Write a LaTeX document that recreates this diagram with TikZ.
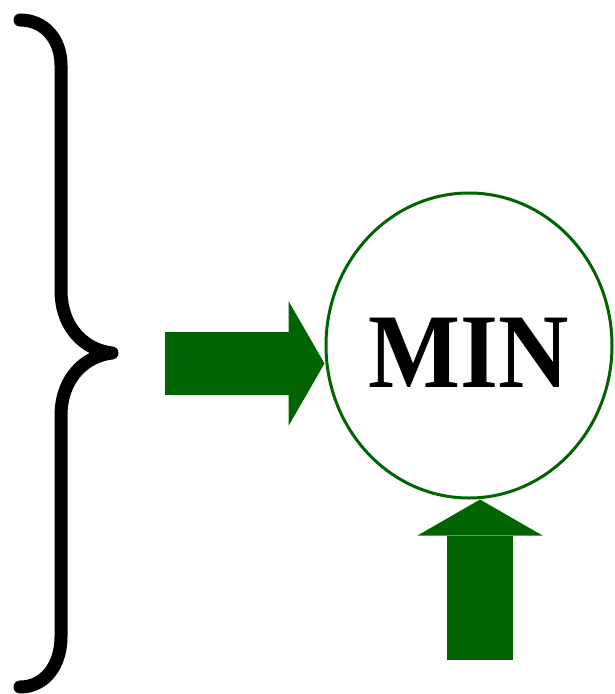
\documentclass[tikz,border=0pt]{standalone}
\usepackage{fontspec}
\setmainfont{Liberation Serif}
\newfontfamily\minfont[FakeStretch=0.92]{Liberation Serif}
\usetikzlibrary{arrows.meta, shapes.geometric}
\definecolor{mingreen}{RGB}{0,100,0}

\begin{document}
\begin{tikzpicture}[
    x=1pt, y=-1pt,
    bracepath/.style={line width=13pt, line cap=round, line join=round},
    minnode/.style={draw=mingreen, line width=3pt, ellipse, minimum width=286pt, minimum height=305pt, inner sep=0pt, text height=83pt, text depth=0pt, font=\minfont\bfseries\fontsize{106}{110}\selectfont},
    fatarrow/.style={draw=mingreen, line width=#1, -{Triangle[length=36pt, width=125pt, line width=0pt]}},
  ]
  \useasboundingbox (0,0) rectangle (615,694);
  % Brace
  \draw[bracepath] (20,20) .. controls (45,20) and (61,40) .. (61,65)
    -- (61,290) .. controls (61,328) and (85,350) .. (112,353)
    .. controls (85,356) and (61,378) .. (61,416)
    -- (61,637) .. controls (61,665) and (45,687) .. (20,687);
  % Min
  \node[minnode] (min) at (469,345.5) {MIN};
  % Inputs
  \coordinate (inLeft) at (165,363.5);
  \coordinate (inBottom) at (480,660);
  \draw[fatarrow=63pt] (inLeft) -- (inLeft -| min.west);
  \draw[fatarrow=66pt] (inBottom) -- (inBottom |- min.south);
\end{tikzpicture}
\end{document}
